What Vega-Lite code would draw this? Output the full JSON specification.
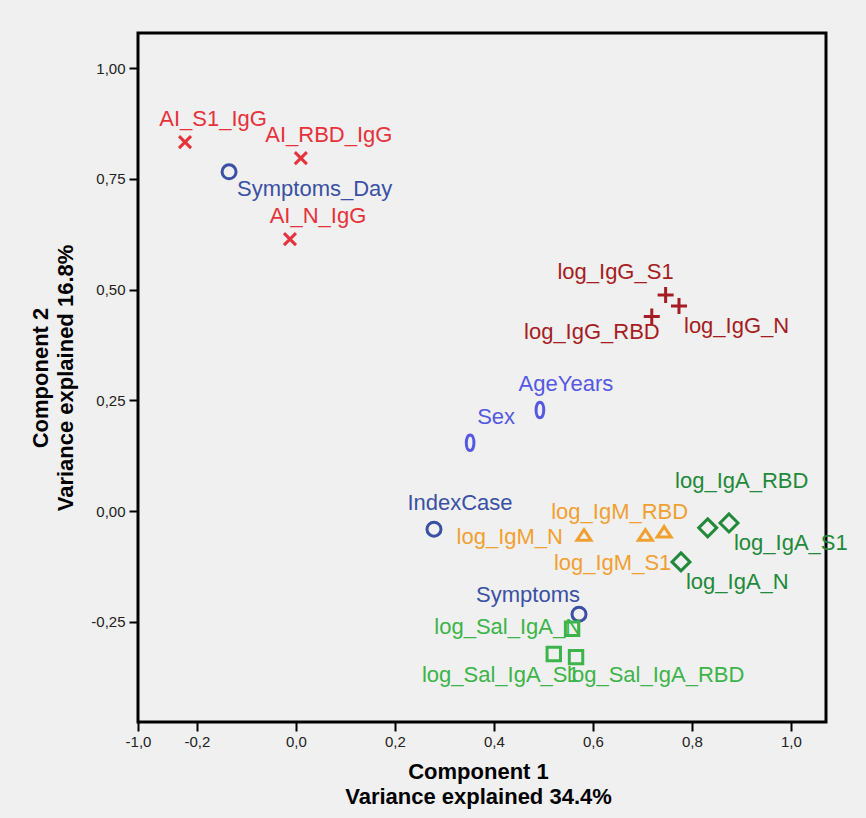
{
  "$schema": "https://vega.github.io/schema/vega-lite/v6.json",
  "width": 688,
  "height": 689,
  "autosize": {"type": "none"},
  "padding": {"left": 138, "top": 33, "right": 40, "bottom": 96},
  "background": "#f0f0f0",
  "config": {
    "view": {"stroke": "#000000", "strokeWidth": 3, "fill": "#f0f0f0"},
    "axis": {
      "domain": false,
      "grid": false,
      "ticks": true,
      "tickColor": "#000000",
      "tickWidth": 2,
      "tickSize": 9,
      "labelFlush": false,
      "labelOverlap": false,
      "labelFont": "Liberation Sans Narrow, Liberation Sans, sans-serif",
      "labelFontSize": 15,
      "labelColor": "#222222",
      "titleFont": "Liberation Sans, Arial, sans-serif",
      "titleFontSize": 22,
      "titleFontWeight": "bold",
      "titleColor": "#000000",
      "titleLineHeight": 25
    },
    "text": {"font": "Liberation Sans, Arial, sans-serif", "fontSize": 22, "baseline": "middle"}
  },
  "data": {
    "values": [
      {"name": "AI_S1_IgG", "group": "AI IgG", "x": -0.224, "y": 0.833},
      {"name": "AI_RBD_IgG", "group": "AI IgG", "x": 0.010, "y": 0.797},
      {"name": "AI_N_IgG", "group": "AI IgG", "x": -0.012, "y": 0.614},
      {"name": "Symptoms_Day", "group": "Clinical", "x": -0.135, "y": 0.766},
      {"name": "IndexCase", "group": "Clinical", "x": 0.279, "y": -0.041},
      {"name": "Symptoms", "group": "Clinical", "x": 0.572, "y": -0.233},
      {"name": "log_IgG_S1", "group": "log IgG", "x": 0.747, "y": 0.488},
      {"name": "log_IgG_N", "group": "log IgG", "x": 0.774, "y": 0.463},
      {"name": "log_IgG_RBD", "group": "log IgG", "x": 0.719, "y": 0.439},
      {"name": "AgeYears", "group": "Demographic", "x": 0.493, "y": 0.228},
      {"name": "Sex", "group": "Demographic", "x": 0.352, "y": 0.154},
      {"name": "log_IgM_N", "group": "log IgM", "x": 0.582, "y": -0.054},
      {"name": "log_IgM_S1", "group": "log IgM", "x": 0.706, "y": -0.054},
      {"name": "log_IgM_RBD", "group": "log IgM", "x": 0.744, "y": -0.047},
      {"name": "log_IgA_RBD", "group": "log IgA", "x": 0.832, "y": -0.038},
      {"name": "log_IgA_S1", "group": "log IgA", "x": 0.875, "y": -0.027},
      {"name": "log_IgA_N", "group": "log IgA", "x": 0.778, "y": -0.115},
      {"name": "log_Sal_IgA_N", "group": "log Sal IgA", "x": 0.558, "y": -0.266},
      {"name": "log_Sal_IgA_S1", "group": "log Sal IgA", "x": 0.521, "y": -0.323},
      {"name": "log_Sal_IgA_RBD", "group": "log Sal IgA", "x": 0.566, "y": -0.330}
    ]
  },
  "encoding": {
    "x": {
      "field": "x",
      "type": "quantitative",
      "scale": {"domain": [-0.319, 1.071], "nice": false, "zero": false},
      "axis": {
        "values": [-0.319, -0.2, 0, 0.2, 0.4, 0.6, 0.8, 1.0],
        "labelExpr": "datum.value < -0.3 ? '-1,0' : datum.value < -0.1 ? '-0,2' : replace(format(datum.value, '.1f'), '.', ',')",
        "labelPadding": 3,
        "titlePadding": 12,
        "title": ["Component 1", "Variance explained 34.4%"],
        "titleX": 340,
        "titleAnchor": "middle"
      }
    },
    "y": {
      "field": "y",
      "type": "quantitative",
      "scale": {"domain": [-0.4765, 1.0795], "nice": false, "zero": false},
      "axis": {
        "values": [-0.25, 0, 0.25, 0.5, 0.75, 1.0],
        "labelExpr": "datum.value < 0 ? '-0,25' : replace(format(datum.value, '.2f'), '.', ',')",
        "labelPadding": 4,
        "titlePadding": 13,
        "title": ["Component 2", "Variance explained 16.8%"]
      }
    },
    "color": {
      "field": "group",
      "type": "nominal",
      "legend": null,
      "scale": {
        "domain": ["AI IgG", "Clinical", "log IgG", "Demographic", "log IgM", "log IgA", "log Sal IgA"],
        "range": ["#e5323b", "#3a50a4", "#a51d22", "#5558e2", "#f0a030", "#23893a", "#3cb449"]
      }
    }
  },
  "layer": [
    {
      "mark": {"type": "point", "filled": false, "strokeWidth": 3, "opacity": 1},
      "encoding": {
        "shape": {
          "field": "group",
          "type": "nominal",
          "legend": null,
          "scale": {
            "domain": ["AI IgG", "Clinical", "log IgG", "Demographic", "log IgM", "log IgA", "log Sal IgA"],
            "range": [
              "M-1,-1L1,1M-1,1L1,-1",
              "circle",
              "M-1,0L1,0M0,-1L0,1",
              "M0,-1C0.66,-1 0.66,1 0,1C-0.66,1 -0.66,-1 0,-1Z",
              "M0,-0.75L1,0.75L-1,0.75Z",
              "M0,-1L1,0L0,1L-1,0Z",
              "M-1,-1L1,-1L1,1L-1,1Z"
            ]
          }
        },
        "size": {
          "field": "group",
          "type": "ordinal",
          "legend": null,
          "scale": {
            "type": "ordinal",
            "domain": ["AI IgG", "Clinical", "log IgG", "Demographic", "log IgM", "log IgA", "log Sal IgA"],
            "range": [144, 196, 256, 240, 196, 324, 180]
          }
        }
      }
    },
    {
      "transform": [{"filter": {"field": "name", "oneOf": ["AI_S1_IgG", "AI_RBD_IgG", "AI_N_IgG"]}}],
      "mark": {"type": "text", "align": "center", "dx": 28, "dy": -23},
      "encoding": {"text": {"field": "name"}}
    },
    {
      "transform": [{"filter": {"field": "name", "oneOf": ["AgeYears", "Sex", "IndexCase"]}}],
      "mark": {"type": "text", "align": "center", "dx": 26, "dy": -26},
      "encoding": {"text": {"field": "name"}}
    },
    {
      "transform": [{"filter": {"field": "name", "equal": "Symptoms_Day"}}],
      "mark": {"type": "text", "align": "left", "dx": 8, "dy": 17},
      "encoding": {"text": {"field": "name"}}
    },
    {
      "transform": [{"filter": {"field": "name", "oneOf": ["log_IgG_N", "log_IgA_S1", "log_IgA_N"]}}],
      "mark": {"type": "text", "align": "left", "dx": 5, "dy": 20},
      "encoding": {"text": {"field": "name"}}
    },
    {
      "transform": [{"filter": {"field": "name", "equal": "log_IgG_S1"}}],
      "mark": {"type": "text", "align": "right", "dx": 8, "dy": -23},
      "encoding": {"text": {"field": "name"}}
    },
    {
      "transform": [{"filter": {"field": "name", "equal": "log_IgG_RBD"}}],
      "mark": {"type": "text", "align": "right", "dx": 8, "dy": 15},
      "encoding": {"text": {"field": "name"}}
    },
    {
      "transform": [{"filter": {"field": "name", "equal": "log_IgM_N"}}],
      "mark": {"type": "text", "align": "right", "dx": -21, "dy": 2},
      "encoding": {"text": {"field": "name"}}
    },
    {
      "transform": [{"filter": {"field": "name", "equal": "log_IgM_RBD"}}],
      "mark": {"type": "text", "align": "right", "dx": 24, "dy": -20},
      "encoding": {"text": {"field": "name"}}
    },
    {
      "transform": [{"filter": {"field": "name", "equal": "log_IgM_S1"}}],
      "mark": {"type": "text", "align": "right", "dx": 26, "dy": 28},
      "encoding": {"text": {"field": "name"}}
    },
    {
      "transform": [{"filter": {"field": "name", "equal": "log_IgA_RBD"}}],
      "mark": {"type": "text", "align": "center", "dx": 34, "dy": -47},
      "encoding": {"text": {"field": "name"}}
    },
    {
      "transform": [{"filter": {"field": "name", "equal": "Symptoms"}}],
      "mark": {"type": "text", "align": "right", "dx": 1, "dy": -19},
      "encoding": {"text": {"field": "name"}}
    },
    {
      "transform": [{"filter": {"field": "name", "equal": "log_Sal_IgA_N"}}],
      "mark": {"type": "text", "align": "right", "dx": 9, "dy": -2},
      "encoding": {"text": {"field": "name"}}
    },
    {
      "transform": [{"filter": {"field": "name", "equal": "log_Sal_IgA_S1"}}],
      "mark": {"type": "text", "align": "right", "dx": 26, "dy": 21},
      "encoding": {"text": {"field": "name"}}
    },
    {
      "transform": [{"filter": {"field": "name", "equal": "log_Sal_IgA_RBD"}}],
      "mark": {"type": "text", "align": "left", "dx": -9, "dy": 18},
      "encoding": {"text": {"field": "name"}}
    }
  ]
}
